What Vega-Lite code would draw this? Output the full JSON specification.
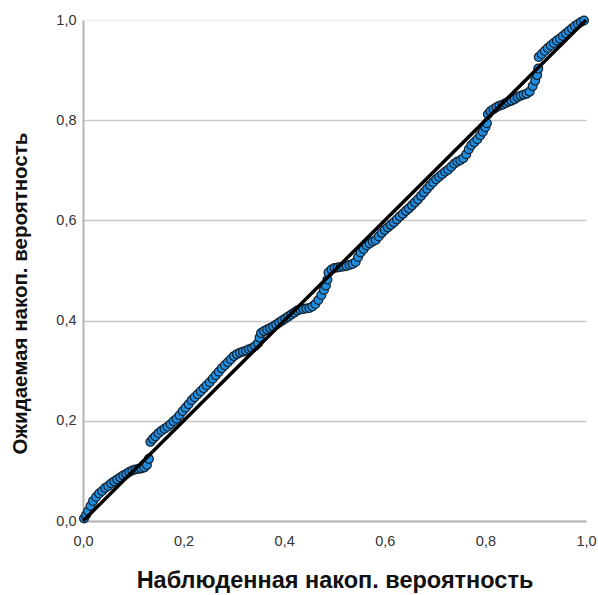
{
  "$schema": "https://vega.github.io/schema/vega-lite/v6.json",
  "width": 503,
  "height": 501,
  "autosize": {"type": "none"},
  "padding": {"left": 83, "top": 20, "right": 12, "bottom": 74},
  "background": "white",
  "config": {
    "view": {"stroke": null},
    "font": "Liberation Sans",
    "axis": {
      "labelFont": "Liberation Sans",
      "titleFont": "Liberation Sans",
      "labelFontSize": 14.5,
      "labelColor": "#333333",
      "titleFontWeight": "bold",
      "titleColor": "#111111",
      "ticks": false,
      "domainColor": "#b4b4b4",
      "domainWidth": 2
    }
  },
  "data": {
    "values": [
      {"obs":0.002,"exp":0.005},{"obs":0.006,"exp":0.012},{"obs":0.010,"exp":0.020},{"obs":0.015,"exp":0.030},{"obs":0.020,"exp":0.040},{"obs":0.026,"exp":0.048},{"obs":0.032,"exp":0.055},{"obs":0.038,"exp":0.060},{"obs":0.044,"exp":0.066},{"obs":0.050,"exp":0.070},{"obs":0.056,"exp":0.075},{"obs":0.062,"exp":0.079},{"obs":0.068,"exp":0.083},{"obs":0.074,"exp":0.087},{"obs":0.080,"exp":0.091},{"obs":0.086,"exp":0.094},{"obs":0.092,"exp":0.098},{"obs":0.098,"exp":0.101},{"obs":0.104,"exp":0.103},{"obs":0.110,"exp":0.104},{"obs":0.116,"exp":0.105},{"obs":0.122,"exp":0.107},{"obs":0.127,"exp":0.112},{"obs":0.131,"exp":0.124},
      {"obs":0.134,"exp":0.158},{"obs":0.139,"exp":0.164},{"obs":0.144,"exp":0.169},{"obs":0.150,"exp":0.175},{"obs":0.156,"exp":0.180},{"obs":0.162,"exp":0.184},{"obs":0.168,"exp":0.188},{"obs":0.174,"exp":0.193},{"obs":0.180,"exp":0.199},{"obs":0.186,"exp":0.204},{"obs":0.192,"exp":0.211},{"obs":0.198,"exp":0.219},{"obs":0.204,"exp":0.226},{"obs":0.210,"exp":0.233},{"obs":0.216,"exp":0.241},{"obs":0.222,"exp":0.247},{"obs":0.228,"exp":0.253},{"obs":0.234,"exp":0.259},{"obs":0.240,"exp":0.265},{"obs":0.246,"exp":0.271},{"obs":0.252,"exp":0.277},{"obs":0.258,"exp":0.284},{"obs":0.264,"exp":0.291},{"obs":0.270,"exp":0.298},{"obs":0.276,"exp":0.305},{"obs":0.282,"exp":0.311},{"obs":0.288,"exp":0.317},{"obs":0.294,"exp":0.323},{"obs":0.300,"exp":0.329},{"obs":0.306,"exp":0.333},{"obs":0.312,"exp":0.336},{"obs":0.318,"exp":0.338},{"obs":0.324,"exp":0.340},{"obs":0.330,"exp":0.343},{"obs":0.336,"exp":0.345},{"obs":0.342,"exp":0.349},{"obs":0.348,"exp":0.355},{"obs":0.351,"exp":0.366},{"obs":0.354,"exp":0.375},{"obs":0.360,"exp":0.379},{"obs":0.366,"exp":0.382},{"obs":0.372,"exp":0.385},{"obs":0.378,"exp":0.388},{"obs":0.384,"exp":0.392},{"obs":0.390,"exp":0.396},{"obs":0.396,"exp":0.400},{"obs":0.402,"exp":0.404},{"obs":0.408,"exp":0.408},{"obs":0.414,"exp":0.412},{"obs":0.420,"exp":0.416},{"obs":0.426,"exp":0.420},{"obs":0.432,"exp":0.422},{"obs":0.438,"exp":0.423},{"obs":0.444,"exp":0.424},{"obs":0.450,"exp":0.425},{"obs":0.456,"exp":0.428},{"obs":0.462,"exp":0.433},{"obs":0.468,"exp":0.441},{"obs":0.474,"exp":0.451},{"obs":0.479,"exp":0.461},{"obs":0.483,"exp":0.470},{"obs":0.486,"exp":0.482},{"obs":0.488,"exp":0.496},{"obs":0.494,"exp":0.502},{"obs":0.500,"exp":0.505},{"obs":0.506,"exp":0.506},{"obs":0.512,"exp":0.507},{"obs":0.518,"exp":0.508},{"obs":0.524,"exp":0.509},{"obs":0.530,"exp":0.511},{"obs":0.536,"exp":0.513},{"obs":0.542,"exp":0.517},{"obs":0.547,"exp":0.527},{"obs":0.552,"exp":0.536},{"obs":0.558,"exp":0.543},{"obs":0.564,"exp":0.550},{"obs":0.570,"exp":0.554},{"obs":0.576,"exp":0.558},{"obs":0.582,"exp":0.561},{"obs":0.588,"exp":0.568},{"obs":0.594,"exp":0.575},{"obs":0.600,"exp":0.581},{"obs":0.606,"exp":0.586},{"obs":0.612,"exp":0.591},{"obs":0.618,"exp":0.596},{"obs":0.624,"exp":0.602},{"obs":0.630,"exp":0.608},{"obs":0.636,"exp":0.613},{"obs":0.642,"exp":0.619},{"obs":0.648,"exp":0.624},{"obs":0.654,"exp":0.630},{"obs":0.660,"exp":0.636},{"obs":0.666,"exp":0.642},{"obs":0.672,"exp":0.649},{"obs":0.678,"exp":0.656},{"obs":0.684,"exp":0.663},{"obs":0.690,"exp":0.670},{"obs":0.696,"exp":0.676},{"obs":0.702,"exp":0.682},{"obs":0.708,"exp":0.687},{"obs":0.714,"exp":0.692},{"obs":0.720,"exp":0.697},{"obs":0.726,"exp":0.701},{"obs":0.732,"exp":0.707},{"obs":0.738,"exp":0.713},{"obs":0.744,"exp":0.717},{"obs":0.750,"exp":0.720},{"obs":0.756,"exp":0.724},{"obs":0.762,"exp":0.732},{"obs":0.767,"exp":0.742},{"obs":0.772,"exp":0.750},{"obs":0.778,"exp":0.756},{"obs":0.784,"exp":0.762},{"obs":0.790,"exp":0.770},{"obs":0.795,"exp":0.777},{"obs":0.800,"exp":0.786},{"obs":0.803,"exp":0.794},{"obs":0.805,"exp":0.812},{"obs":0.810,"exp":0.818},{"obs":0.816,"exp":0.822},{"obs":0.822,"exp":0.826},{"obs":0.828,"exp":0.829},{"obs":0.834,"exp":0.831},{"obs":0.840,"exp":0.834},{"obs":0.846,"exp":0.837},{"obs":0.852,"exp":0.839},{"obs":0.858,"exp":0.842},{"obs":0.864,"exp":0.846},{"obs":0.870,"exp":0.849},{"obs":0.876,"exp":0.851},{"obs":0.882,"exp":0.853},{"obs":0.888,"exp":0.857},{"obs":0.894,"exp":0.868},{"obs":0.899,"exp":0.879},{"obs":0.903,"exp":0.890},{"obs":0.905,"exp":0.903},{"obs":0.906,"exp":0.926},{"obs":0.912,"exp":0.932},{"obs":0.918,"exp":0.938},{"obs":0.924,"exp":0.944},{"obs":0.930,"exp":0.949},{"obs":0.936,"exp":0.954},{"obs":0.942,"exp":0.959},{"obs":0.948,"exp":0.963},{"obs":0.954,"exp":0.968},{"obs":0.960,"exp":0.973},{"obs":0.966,"exp":0.978},{"obs":0.972,"exp":0.983},{"obs":0.978,"exp":0.988},{"obs":0.984,"exp":0.992},{"obs":0.990,"exp":0.996},{"obs":0.996,"exp":0.999}
    ]
  },
  "layer": [
    {
      "mark": {"type": "point", "filled": true, "shape": "circle", "size": 78, "fill": "#1f8ee0", "stroke": "#15212e", "strokeWidth": 1.2, "opacity": 1, "clip": false},
      "encoding": {
        "x": {
          "field": "obs", "type": "quantitative",
          "scale": {"domain": [0, 1], "nice": false, "zero": false},
          "axis": {
            "values": [0, 0.2, 0.4, 0.6, 0.8, 1],
            "labelExpr": "replace(format(datum.value, '.1f'), '.', ',')",
            "grid": false,
            "labelPadding": 13,
            "labelFlush": false,
            "title": "Наблюденная накоп. вероятность",
            "titleFontSize": 23.5,
            "titlePadding": 21
          }
        },
        "y": {
          "field": "exp", "type": "quantitative",
          "scale": {"domain": [0, 1], "nice": false, "zero": false},
          "axis": {
            "values": [0, 0.2, 0.4, 0.6, 0.8, 1],
            "labelExpr": "replace(format(datum.value, '.1f'), '.', ',')",
            "grid": true,
            "gridColor": {"condition": {"test": "datum.value == 1", "value": "#f2f2f2"}, "value": "#c8c8c8"},
            "gridWidth": 1.5,
            "labelPadding": 7,
            "labelFlush": false,
            "title": "Ожидаемая накоп. вероятность",
            "titleFontSize": 20.5,
            "titleY": 273,
            "titlePadding": 25
          }
        }
      }
    },
    {
      "data": {"values": [{"obs": 0, "exp": 0}, {"obs": 1, "exp": 1}]},
      "mark": {"type": "line", "color": "#000000", "strokeWidth": 3.5},
      "encoding": {
        "x": {"field": "obs", "type": "quantitative"},
        "y": {"field": "exp", "type": "quantitative"}
      }
    }
  ]
}
